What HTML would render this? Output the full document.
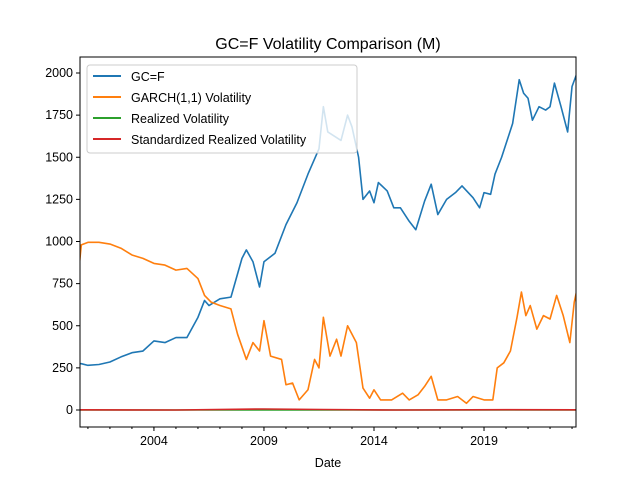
<!DOCTYPE html>
<html><head><meta charset="utf-8"><style>body{margin:0;background:#fff}svg{font-family:"Liberation Sans","DejaVu Sans",sans-serif}</style></head>
<body>
<svg id="c" width="640" height="480" xmlns="http://www.w3.org/2000/svg"></svg>
<script>
const gcDates=[2000.6,2000.7,2001.0,2001.5,2002.0,2002.5,2003.0,2003.5,2004.0,2004.5,2005.0,2005.5,2006.0,2006.3,2006.5,2007.0,2007.5,2008.0,2008.2,2008.5,2008.8,2009.0,2009.5,2010.0,2010.5,2011.0,2011.5,2011.7,2011.9,2012.5,2012.8,2013.0,2013.3,2013.5,2013.8,2014.0,2014.2,2014.6,2014.9,2015.2,2015.6,2015.9,2016.3,2016.6,2016.9,2017.3,2017.7,2018.0,2018.5,2018.8,2019.0,2019.3,2019.5,2019.8,2020.0,2020.3,2020.6,2020.8,2021.0,2021.2,2021.5,2021.8,2022.0,2022.2,2022.5,2022.8,2023.0,2023.2];
const gcValues=[275,275,265,270,285,315,340,350,410,400,430,430,550,650,620,660,670,900,950,880,730,880,930,1100,1230,1400,1550,1800,1650,1600,1750,1680,1500,1250,1300,1230,1350,1300,1200,1200,1120,1070,1240,1340,1160,1250,1290,1330,1260,1200,1290,1280,1400,1500,1580,1700,1960,1880,1850,1720,1800,1780,1800,1940,1800,1650,1920,1990];
const garchDates=[2000.6,2000.7,2001.0,2001.5,2002.0,2002.5,2003.0,2003.5,2004.0,2004.5,2005.0,2005.5,2006.0,2006.3,2006.6,2007.0,2007.5,2007.8,2008.2,2008.5,2008.8,2009.0,2009.3,2009.8,2010.0,2010.3,2010.6,2011.0,2011.3,2011.5,2011.7,2012.0,2012.3,2012.5,2012.8,2013.2,2013.5,2013.8,2014.0,2014.3,2014.8,2015.3,2015.6,2016.0,2016.3,2016.6,2016.9,2017.3,2017.8,2018.2,2018.5,2019.0,2019.4,2019.6,2019.9,2020.2,2020.5,2020.7,2020.9,2021.1,2021.4,2021.7,2022.0,2022.3,2022.6,2022.9,2023.1,2023.2];
const garchValues=[850,980,995,995,985,960,920,900,870,860,830,840,780,680,640,620,600,450,300,400,350,530,320,300,150,160,60,120,300,250,550,320,420,320,500,400,130,70,120,60,60,100,60,90,140,200,60,60,80,40,80,60,60,250,280,350,550,700,560,620,480,560,540,680,560,400,640,700];
const rvDates=[2000.6,2023.2];
const rvValues=[0,0];
const srvDates=[2000.6,2005,2009,2011.7,2015,2020,2023.2];
const srvValues=[1,0,6,3,0,2,1];
const yTicks=[0,250,500,750,1000,1250,1500,1750,2000];
const xTicks=[2004,2009,2014,2019];

const L=80,R=576,T=57,B=427;
const x0=2000.64,x1=2023.18;
const X=d=>L+(d-x0)/(x1-x0)*(R-L);
const Y=v=>410-v*0.1685;
const svg=document.getElementById('c');
const NS='http://www.w3.org/2000/svg';
function mk(t,a,p){const e=document.createElementNS(NS,t);for(const k in a)e.setAttribute(k,a[k]);(p||svg).appendChild(e);return e;}

const title=mk('text',{x:328,y:49,'text-anchor':'middle','font-size':16});
title.textContent='GC=F Volatility Comparison (M)';



const clip=mk('clipPath',{id:'pc'});mk('rect',{x:L,y:T,width:R-L,height:B-T},clip);

function series(ds,vs,color,name){
  const p=mk('polyline',{points:ds.map((d,i)=>X(d)+','+Y(vs[i])).join(' '),fill:'none',stroke:color,'stroke-width':1.6,'clip-path':'url(#pc)','stroke-linejoin':'round'});
  
  
}
series(gcDates,gcValues,'#1f77b4','gcf-line');
series(garchDates,garchValues,'#ff7f0e','garch-line');
series(rvDates,rvValues,'#2ca02c','realized-vol-line');
series(srvDates,srvValues,'#d62728','standardized-realized-vol-line');

const frame=mk('rect',{x:L,y:T,width:R-L,height:B-T,fill:'none',stroke:'#000','stroke-width':1});



yTicks.forEach(v=>{
  mk('line',{x1:L-4,x2:L,y1:Y(v),y2:Y(v),stroke:'#000'});
  const t=mk('text',{x:L-7,y:Y(v)+4,'text-anchor':'end','font-size':12.5});
  t.textContent=v;
  
  
});
for(let yr=2001;yr<=2023;yr++){mk('line',{x1:X(yr),x2:X(yr),y1:B,y2:B+2,stroke:'#000'});}
xTicks.forEach(v=>{
  mk('line',{x1:X(v),x2:X(v),y1:B,y2:B+4,stroke:'#000'});
  const t=mk('text',{x:X(v),y:B+18,'text-anchor':'middle','font-size':12.5});
  t.textContent=v;
  
  
});
const xl=mk('text',{x:328,y:467,'text-anchor':'middle','font-size':12.5});
xl.textContent='Date';



const lg=mk('g',{});


mk('rect',{x:87,y:65,width:270,height:88,rx:3,fill:'#fff','fill-opacity':0.8,stroke:'#ccc'},lg);
[['GC=F','#1f77b4'],['GARCH(1,1) Volatility','#ff7f0e'],['Realized Volatility','#2ca02c'],['Standardized Realized Volatility','#d62728']].forEach((e,i)=>{
  const y=76+i*21;
  mk('line',{x1:93,x2:121,y1:y,y2:y,stroke:e[1],'stroke-width':2},lg);
  const t=mk('text',{x:131,y:y+5,'font-size':12.5},lg);
  t.textContent=e[0];
  
  
});
</script>
</body></html>
